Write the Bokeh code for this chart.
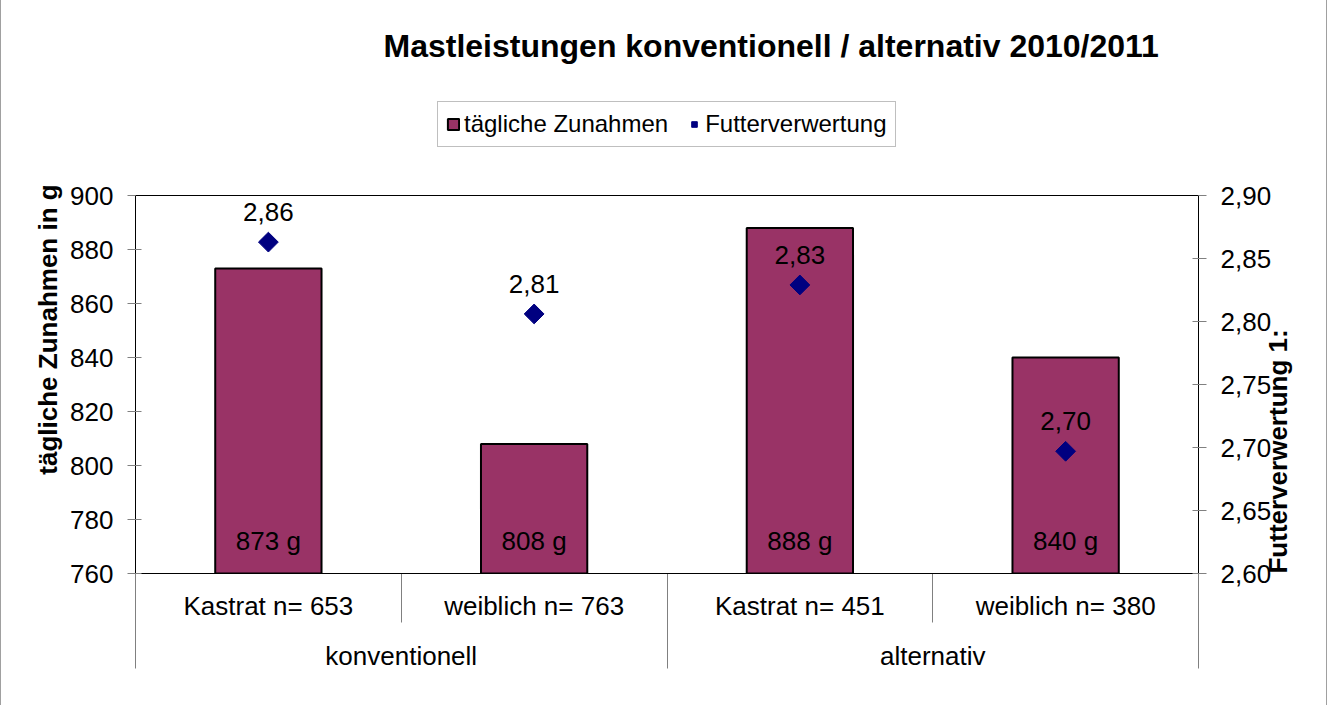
import numpy as np
from bokeh.plotting import figure
from bokeh.models import (FactorRange, Range1d, LinearAxis, FixedTicker, Span,
                          CustomJSTickFormatter, ColumnDataSource, Legend, LegendItem)
from bokeh.core.properties import value
from bokeh.embed import file_html
from bokeh.resources import INLINE

# ---------------- data ----------------
chart_title = "Mastleistungen konventionell / alternativ 2010/2011"
groups = ["konventionell", "konventionell", "alternativ", "alternativ"]
subgroups = ["Kastrat n= 653", "weiblich n= 763", "Kastrat n= 451", "weiblich n= 380"]
zunahmen = [873, 808, 888, 840]                     # tägliche Zunahmen in g
futterverwertung = [2.863, 2.806, 2.829, 2.697]     # Futterverwertung 1:
y_ticks_left = [760, 780, 800, 820, 840, 860, 880, 900]
y_ticks_right = [2.60, 2.65, 2.70, 2.75, 2.80, 2.85, 2.90]
series_names = ["tägliche Zunahmen", "Futterverwertung"]
y_label_left = "tägliche Zunahmen in g"
y_label_right = "Futterverwertung 1:"

FONT = "Liberation Sans"
BAR_COLOR = "#993366"
DIAMOND_COLOR = "#000080"
FS = "26px"

# ---------------- layout (pixels) ----------------
FRAME_TOP = 85        # top of drawing area (holds the legend above the value area)
AXIS_TOP = 195        # pixel row of the upper axis limit
AXIS_BOTTOM = 573     # pixel row of the lower axis limit
headroom = (AXIS_TOP - FRAME_TOP) / (AXIS_BOTTOM - AXIS_TOP)

factors = list(zip(groups, subgroups))
n = len(factors)
x_range = FactorRange(*factors, factor_padding=0, group_padding=0, range_padding=0)

y_start, y_end = y_ticks_left[0], y_ticks_left[-1]
r_start, r_end = y_ticks_right[0], y_ticks_right[-1]

p = figure(x_range=x_range,
           y_range=Range1d(y_start, y_end + (y_end - y_start) * headroom),
           width=1327, height=705, output_backend="svg", toolbar_location=None,
           min_border_left=134, min_border_right=130, min_border_top=FRAME_TOP,
           min_border_bottom=705 - AXIS_BOTTOM)
p.styles = {"border-left": "1px solid #a0a0a0", "border-right": "1px solid #a0a0a0"}
p.extra_y_ranges = {"fcr": Range1d(r_start, r_end + (r_end - r_start) * headroom)}

p.background_fill_color = "white"
p.border_fill_color = "white"
p.outline_line_color = None
p.xgrid.grid_line_color = None
p.ygrid.grid_line_color = None

# upper border of the value area
p.add_layout(Span(location=y_end, dimension="width", line_color="black", line_width=1))

src = ColumnDataSource(dict(
    x=factors,
    zun=zunahmen,
    fcr=futterverwertung,
    zun_lbl=[f"{v} g" for v in zunahmen],
    fcr_lbl=[f"{v:.2f}".replace(".", ",") for v in futterverwertung],
    base=[y_start] * n,
))

bars = p.vbar(x="x", top="zun", bottom=y_start, width=0.4, source=src,
              fill_color=BAR_COLOR, line_color="black", line_width=2)
pts = p.scatter(x="x", y="fcr", y_range_name="fcr", source=src, marker="square",
                angle=np.pi / 4, size=14, fill_color=DIAMOND_COLOR, line_color=DIAMOND_COLOR)

p.text(x="x", y="fcr", text="fcr_lbl", y_range_name="fcr", source=src,
       text_align="center", text_baseline="alphabetic", y_offset=-30,
       text_font=value(FONT), text_font_size=FS, text_color="black")
p.text(x="x", y="base", text="zun_lbl", source=src,
       text_align="center", text_baseline="alphabetic", y_offset=-33,
       text_font=value(FONT), text_font_size=FS, text_color="black")

# left axis
ly = p.yaxis[0]
ly.ticker = FixedTicker(ticks=y_ticks_left)
ly.bounds = (y_start, y_end)
ly.axis_label = y_label_left
ly.axis_label_text_font = FONT
ly.axis_label_text_font_size = FS
ly.axis_label_text_font_style = "bold"
ly.axis_label_text_color = "black"
ly.axis_label_standoff = 4
ly.major_label_text_font = FONT
ly.major_label_text_font_size = FS
ly.major_label_text_color = "black"
ly.major_label_standoff = 14
ly.major_tick_in = 6
ly.major_tick_out = 8
ly.minor_tick_line_color = None
ly.axis_line_color = "black"
ly.major_tick_line_color = "#808080"

# right axis
ry = LinearAxis(y_range_name="fcr", ticker=FixedTicker(ticks=y_ticks_right),
                formatter=CustomJSTickFormatter(code="return tick.toFixed(2).replace('.', ',');"))
ry.bounds = (r_start, r_end)
ry.axis_label = y_label_right
ry.axis_label_orientation = np.pi / 2
ry.axis_label_text_font = FONT
ry.axis_label_text_font_size = FS
ry.axis_label_text_font_style = "bold"
ry.axis_label_text_color = "black"
ry.axis_label_standoff = 4
ry.major_label_text_font = FONT
ry.major_label_text_font_size = FS
ry.major_label_text_color = "black"
ry.major_label_standoff = 14
ry.major_tick_in = 6
ry.major_tick_out = 8
ry.minor_tick_line_color = None
ry.axis_line_color = "black"
ry.major_tick_line_color = "#808080"
p.add_layout(ry, "right")

# right axis title starts at the bottom of the axis, reading upwards
try:
    ry.axis_label_align = "start"
except Exception:
    pass

# categorical x axis
cx = p.xaxis[0]
cx.major_tick_line_color = None
cx.major_tick_in = 0
cx.major_tick_out = 0
cx.axis_line_color = "black"
cx.major_label_text_font = FONT
cx.major_label_text_font_size = FS
cx.major_label_text_color = "black"
cx.major_label_standoff = 17
cx.group_text_font = FONT
cx.group_text_font_size = FS
cx.group_text_font_style = "normal"
cx.group_text_color = "black"
cx.separator_line_color = None

# separator lines between categories (Excel style), at synthetic category boundaries
sub_bounds = list(range(n + 1))
grp_bounds = [0] + [i for i in range(1, n) if groups[i] != groups[i - 1]] + [n]
sep = LinearAxis(ticker=FixedTicker(ticks=grp_bounds,
                                    minor_ticks=[b for b in sub_bounds if b not in grp_bounds]))
sep.axis_line_color = None
sep.major_label_text_color = None
sep.major_tick_in = -95
sep.major_tick_out = 0
sep.minor_tick_in = -49
sep.minor_tick_out = 0
sep.major_tick_line_color = "#808080"
sep.minor_tick_line_color = "#808080"
p.below = [sep] + list(p.below)

# legend (above the value area, inside the drawing area)
legend = Legend(items=[LegendItem(label=series_names[0], renderers=[bars]),
                       LegendItem(label=series_names[1], renderers=[pts])],
                orientation="horizontal", location=(302, AXIS_BOTTOM - 147), margin=0,
                border_line_color="#808080", border_line_width=1,
                background_fill_color="white", background_fill_alpha=1,
                label_text_font=FONT, label_text_font_size="24px", label_text_color="black",
                glyph_width=14, glyph_height=14, label_standoff=4, spacing=19, padding=8)
p.add_layout(legend, "center")

# title
p.title.text = chart_title
p.title.text_font = FONT
p.title.text_font_size = "32px"
p.title.text_font_style = "bold"
p.title.text_color = "black"
p.title.align = "left"
p.title.offset = 248
p.title.standoff = 44

open("out.html", "w").write(file_html(p, INLINE))
